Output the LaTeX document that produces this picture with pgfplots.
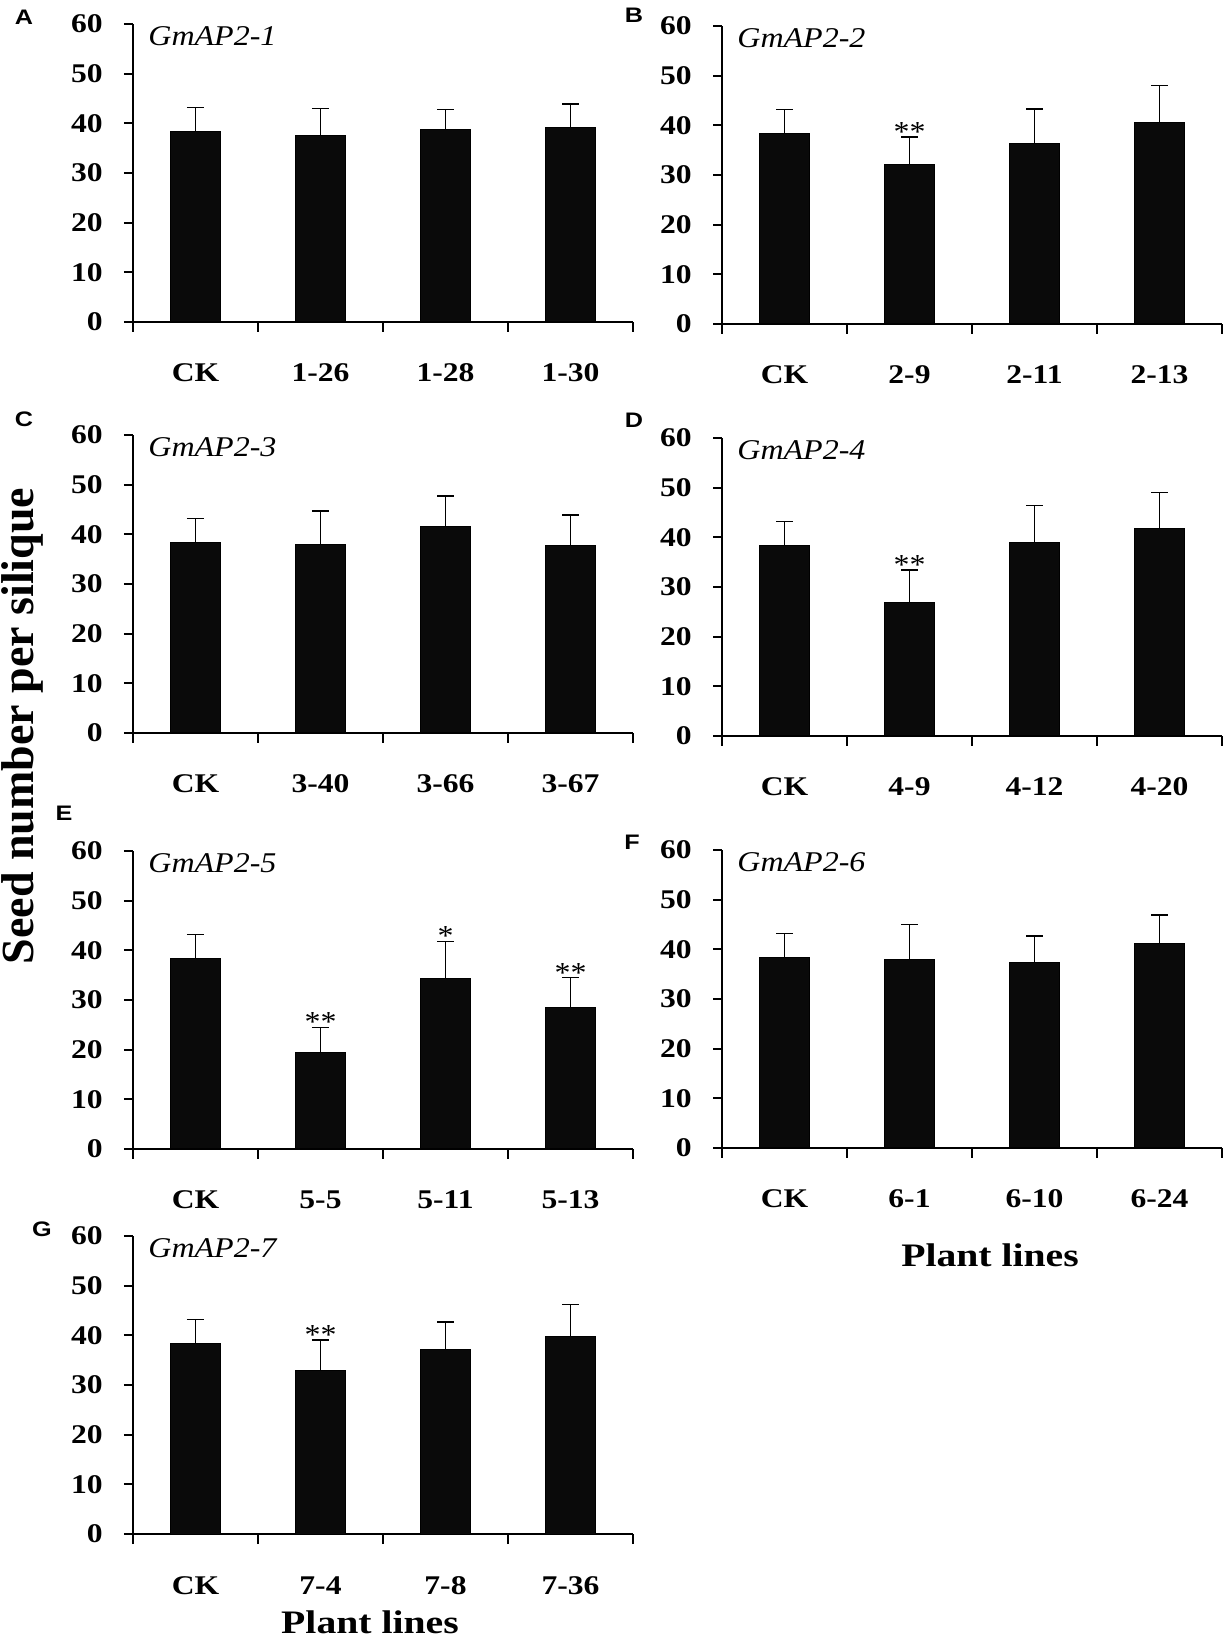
\documentclass[border=0pt]{standalone}
\usepackage{fontspec}
\setmainfont{Liberation Serif}
\newfontfamily\sansf{Liberation Sans}
\usepackage{graphicx}
\usepackage{pgfplots}
\usepackage{pgfplotstable}
\pgfplotsset{compat=1.18}
\newcommand{\sx}[1]{\scalebox{1.17}[1]{#1}}

\pgfplotstableread{
x y e
0 38.3 4.9
1 37.5 5.5
2 38.7 4.1
3 39.2 4.7
}\dataA
\pgfplotstableread{
x y e
0 38.3 4.9
1 32.1 5.6
2 36.3 7.0
3 40.6 7.4
}\dataB
\pgfplotstableread{
x y e
0 38.3 4.9
1 38.0 6.7
2 41.6 6.1
3 37.8 6.1
}\dataC
\pgfplotstableread{
x y e
0 38.3 4.9
1 26.8 6.6
2 38.9 7.5
3 41.8 7.2
}\dataD
\pgfplotstableread{
x y e
0 38.3 4.9
1 19.5 5.0
2 34.3 7.5
3 28.4 6.1
}\dataE
\pgfplotstableread{
x y e
0 38.3 4.9
1 37.9 7.1
2 37.3 5.4
3 41.1 5.8
}\dataF
\pgfplotstableread{
x y e
0 38.3 4.9
1 32.9 6.2
2 37.2 5.5
3 39.7 6.5
}\dataG

\pgfplotsset{
  pan/.style={
    scale only axis, width=250pt, height=149pt, anchor=south west,
    xmin=-0.5, xmax=3.5, ymin=0, ymax=60,
    axis x line*=bottom, axis y line*=left,
    axis line style={-, line width=1pt, black},
    ytick={0,10,...,60}, xtick={0,1,2,3},
    minor xtick={-0.5,0.5,1.5,2.5,3.5},
    tick align=outside, major tick length=4.5pt, minor tick length=5pt,
    tick style={line width=1pt, black},
    major x tick style={draw=none},
    /pgf/number format/assume math mode=true,
    yticklabel={\sx{\pgfmathprintnumber{\tick}}},
    ticklabel style={font=\bfseries\fontsize{13.5}{13.5}\selectfont},
    yticklabel style={anchor=east, inner sep=0pt, xshift=-10.5pt},
    xticklabel style={anchor=base, inner sep=0pt, yshift=-25.5pt},
    clip=false,
  },
  bars/.style={ybar, bar width=0.4, fill=black!96, draw=black, line width=0.5pt,
    error bars/.cd, y dir=plus, y explicit,
    error bar style={line width=0.8pt, black},
    error mark options={rotate=90, mark size=4.25pt, line width=0.8pt, black}},
}
\newcommand{\gtitle}[1]{\node[anchor=base west, inner sep=0pt, font=\itshape\fontsize{14.3}{14.3}\selectfont] at ([xshift=7.5pt,yshift=-10.5pt]rel axis cs:0,1) {\scalebox{1.12}[1]{#1}};}
\newcommand{\sig}[3]{\node[anchor=base, inner sep=0pt, font=\fontsize{14.5}{14.5}\selectfont] at ([yshift=-2.3pt]axis cs:#1,#2) {\scalebox{1.1}[1]{#3}};}

\begin{document}
\begin{tikzpicture}[x=0.5pt, y=0.5pt]
\path[use as bounding box] (0,0) rectangle (1229,1640);

% A
\begin{axis}[pan, at={(66.5pt,659pt)}, xticklabels={\sx{CK},\sx{1-26},\sx{1-28},\sx{1-30}}]
\addplot[bars] table[x=x, y=y, y error=e] {\dataA};
\gtitle{GmAP2-1}
\end{axis}
% B
\begin{axis}[pan, at={(361pt,658pt)}, xticklabels={\sx{CK},\sx{2-9},\sx{2-11},\sx{2-13}}]
\addplot[bars] table[x=x, y=y, y error=e] {\dataB};
\gtitle{GmAP2-2}
\sig{1}{37.7}{**}
\end{axis}
% C
\begin{axis}[pan, at={(66.5pt,453.5pt)}, xticklabels={\sx{CK},\sx{3-40},\sx{3-66},\sx{3-67}}]
\addplot[bars] table[x=x, y=y, y error=e] {\dataC};
\gtitle{GmAP2-3}
\end{axis}
% D
\begin{axis}[pan, at={(361pt,452pt)}, xticklabels={\sx{CK},\sx{4-9},\sx{4-12},\sx{4-20}}]
\addplot[bars] table[x=x, y=y, y error=e] {\dataD};
\gtitle{GmAP2-4}
\sig{1}{33.4}{**}
\end{axis}
% E
\begin{axis}[pan, at={(66.5pt,245.5pt)}, xticklabels={\sx{CK},\sx{5-5},\sx{5-11},\sx{5-13}}]
\addplot[bars] table[x=x, y=y, y error=e] {\dataE};
\gtitle{GmAP2-5}
\sig{1}{24.5}{**}
\sig{2}{41.8}{*}
\sig{3}{34.5}{**}
\end{axis}
% F
\begin{axis}[pan, at={(361pt,246pt)}, xticklabels={\sx{CK},\sx{6-1},\sx{6-10},\sx{6-24}}]
\addplot[bars] table[x=x, y=y, y error=e] {\dataF};
\gtitle{GmAP2-6}
\end{axis}
% G
\begin{axis}[pan, at={(66.5pt,53pt)}, xticklabels={\sx{CK},\sx{7-4},\sx{7-8},\sx{7-36}}]
\addplot[bars] table[x=x, y=y, y error=e] {\dataG};
\gtitle{GmAP2-7}
\sig{1}{39.1}{**}
\end{axis}

% panel letters
\begin{scope}[every node/.style={font=\sansf\bfseries\fontsize{10.5}{10.5}\selectfont, inner sep=0pt, anchor=center}]
\node at (24,1623) {\scalebox{1.2}[1]{A}};
\node at (634,1625) {\scalebox{1.2}[1]{B}};
\node at (24,1221) {\scalebox{1.2}[1]{C}};
\node at (634,1220) {\scalebox{1.2}[1]{D}};
\node at (64,827) {\scalebox{1.2}[1]{E}};
\node at (632,798) {\scalebox{1.2}[1]{F}};
\node at (42,411) {\scalebox{1.2}[1]{G}};
\end{scope}

\node[rotate=90, anchor=base, inner sep=0pt, font=\bfseries\fontsize{23}{23}\selectfont] at (34,914) {Seed number per silique};
\node[anchor=base, inner sep=0pt, font=\bfseries\fontsize{16.4}{16.4}\selectfont] at (990,373) {\scalebox{1.21}[1]{Plant lines}};
\node[anchor=base, inner sep=0pt, font=\bfseries\fontsize{16.4}{16.4}\selectfont] at (370,6) {\scalebox{1.21}[1]{Plant lines}};
\end{tikzpicture}
\end{document}
